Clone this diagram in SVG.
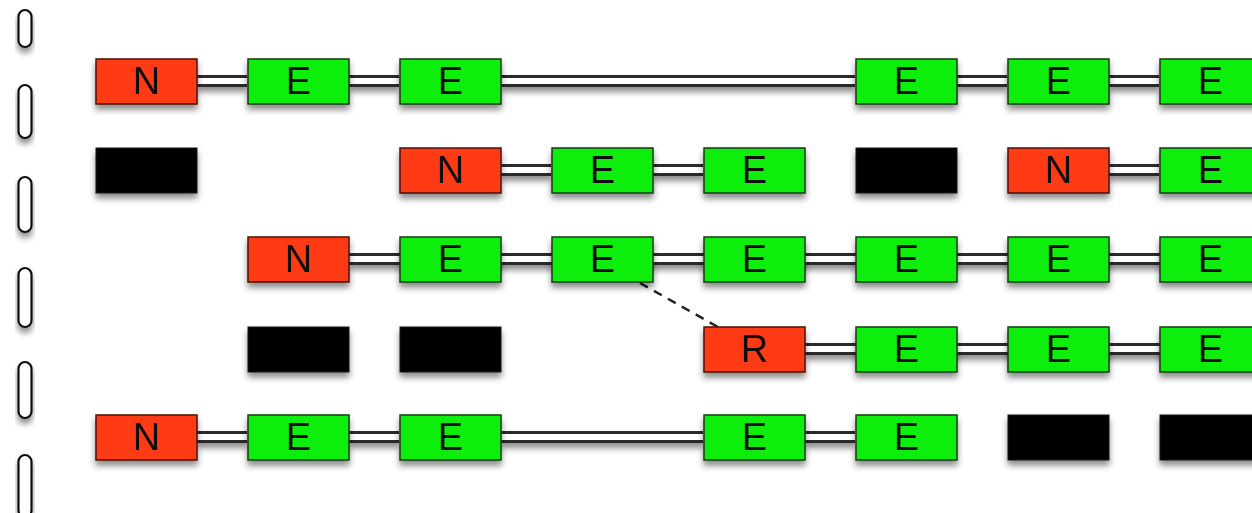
<svg xmlns="http://www.w3.org/2000/svg" width="1252" height="513" viewBox="0 0 1252 513">
<defs>
<filter id="sh" x="-20%" y="-30%" width="140%" height="180%">
<feDropShadow dx="0" dy="5" stdDeviation="3" flood-color="#000" flood-opacity="0.45"/>
</filter>
<style>
.n{fill:#ff3a14;stroke:#4a1408;stroke-width:1.5}
.e{fill:#10ee10;stroke:#163a16;stroke-width:1.5}
.b{fill:#000;stroke:#111;stroke-width:1}
.t{font-family:"Liberation Sans",Arial,sans-serif;font-size:38px;fill:#111;text-anchor:middle}
.co{stroke:#2a2a2a;stroke-width:12;fill:none}
.ci{stroke:#fff;stroke-width:6;fill:none}
.pill{fill:#fff;stroke:#111;stroke-width:2.2}
.dash{stroke:#222;stroke-width:2.5;stroke-dasharray:9 7;fill:none}
</style>
</defs>
<rect width="1252" height="513" fill="#fff"/>
<g id="pills" filter="url(#sh)">
<rect class="pill" x="18.5" y="10" width="13" height="37" rx="6.5"/>
<rect class="pill" x="18.5" y="85" width="13" height="53" rx="6.5"/>
<rect class="pill" x="18.5" y="177" width="13" height="55" rx="6.5"/>
<rect class="pill" x="18.5" y="268" width="13" height="59" rx="6.5"/>
<rect class="pill" x="18.5" y="362" width="13" height="56" rx="6.5"/>
<rect class="pill" x="18.5" y="455" width="13" height="62" rx="6.5"/>
</g>
<g id="connectors">
<g filter="url(#sh)">
<path class="co" d="M197 81H247M349 81H399M501 81H855M957 81H1007M1109 81H1159M501 170H551M653 170H703M1109 170H1159M349 259H1252M805 349H1252M197 437H247M349 437H399M501 437H703M805 437H855"/>
</g>
<path class="ci" d="M197 81H247M349 81H399M501 81H855M957 81H1007M1109 81H1159M501 170H551M653 170H703M1109 170H1159M349 259H1252M805 349H1252M197 437H247M349 437H399M501 437H703M805 437H855"/>
<path class="dash" d="M640 283L718 327"/>
</g>
<g filter="url(#sh)">
<g id="r1c0"><rect class="n" x="96" y="59" width="101" height="45"/><text class="t" x="146.5" y="94">N</text></g>
<g id="r1c1"><rect class="e" x="248" y="59" width="101" height="45"/><text class="t" x="298.5" y="94">E</text></g>
<g id="r1c2"><rect class="e" x="400" y="59" width="101" height="45"/><text class="t" x="450.5" y="94">E</text></g>
<g id="r1c5"><rect class="e" x="856" y="59" width="101" height="45"/><text class="t" x="906.5" y="94">E</text></g>
<g id="r1c6"><rect class="e" x="1008" y="59" width="101" height="45"/><text class="t" x="1058.5" y="94">E</text></g>
<g id="r1c7"><rect class="e" x="1160" y="59" width="101" height="45"/><text class="t" x="1210.5" y="94">E</text></g>

<g id="r2c0"><rect class="b" x="96" y="148" width="101" height="45"/></g>
<g id="r2c2"><rect class="n" x="400" y="148" width="101" height="45"/><text class="t" x="450.5" y="183">N</text></g>
<g id="r2c3"><rect class="e" x="552" y="148" width="101" height="45"/><text class="t" x="602.5" y="183">E</text></g>
<g id="r2c4"><rect class="e" x="704" y="148" width="101" height="45"/><text class="t" x="754.5" y="183">E</text></g>
<g id="r2c5"><rect class="b" x="856" y="148" width="101" height="45"/></g>
<g id="r2c6"><rect class="n" x="1008" y="148" width="101" height="45"/><text class="t" x="1058.5" y="183">N</text></g>
<g id="r2c7"><rect class="e" x="1160" y="148" width="101" height="45"/><text class="t" x="1210.5" y="183">E</text></g>

<g id="r3c1"><rect class="n" x="248" y="237" width="101" height="45"/><text class="t" x="298.5" y="272">N</text></g>
<g id="r3c2"><rect class="e" x="400" y="237" width="101" height="45"/><text class="t" x="450.5" y="272">E</text></g>
<g id="r3c3"><rect class="e" x="552" y="237" width="101" height="45"/><text class="t" x="602.5" y="272">E</text></g>
<g id="r3c4"><rect class="e" x="704" y="237" width="101" height="45"/><text class="t" x="754.5" y="272">E</text></g>
<g id="r3c5"><rect class="e" x="856" y="237" width="101" height="45"/><text class="t" x="906.5" y="272">E</text></g>
<g id="r3c6"><rect class="e" x="1008" y="237" width="101" height="45"/><text class="t" x="1058.5" y="272">E</text></g>
<g id="r3c7"><rect class="e" x="1160" y="237" width="101" height="45"/><text class="t" x="1210.5" y="272">E</text></g>

<g id="r4c1"><rect class="b" x="248" y="327" width="101" height="45"/></g>
<g id="r4c2"><rect class="b" x="400" y="327" width="101" height="45"/></g>
<g id="r4c4"><rect class="n" x="704" y="327" width="101" height="45"/><text class="t" x="754.5" y="362">R</text></g>
<g id="r4c5"><rect class="e" x="856" y="327" width="101" height="45"/><text class="t" x="906.5" y="362">E</text></g>
<g id="r4c6"><rect class="e" x="1008" y="327" width="101" height="45"/><text class="t" x="1058.5" y="362">E</text></g>
<g id="r4c7"><rect class="e" x="1160" y="327" width="101" height="45"/><text class="t" x="1210.5" y="362">E</text></g>

<g id="r5c0"><rect class="n" x="96" y="415" width="101" height="45"/><text class="t" x="146.5" y="450">N</text></g>
<g id="r5c1"><rect class="e" x="248" y="415" width="101" height="45"/><text class="t" x="298.5" y="450">E</text></g>
<g id="r5c2"><rect class="e" x="400" y="415" width="101" height="45"/><text class="t" x="450.5" y="450">E</text></g>
<g id="r5c4"><rect class="e" x="704" y="415" width="101" height="45"/><text class="t" x="754.5" y="450">E</text></g>
<g id="r5c5"><rect class="e" x="856" y="415" width="101" height="45"/><text class="t" x="906.5" y="450">E</text></g>
<g id="r5c6"><rect class="b" x="1008" y="415" width="101" height="45"/></g>
<g id="r5c7"><rect class="b" x="1160" y="415" width="101" height="45"/></g>
</g>
</svg>
